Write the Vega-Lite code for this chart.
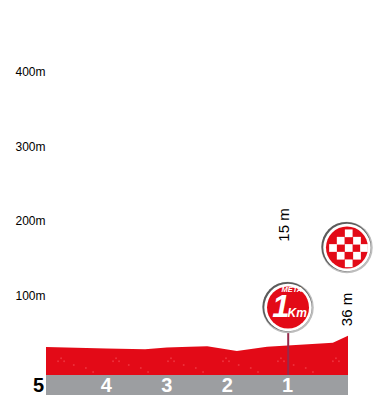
{"$schema":"https://vega.github.io/schema/vega-lite/v6.json","width":302,"height":400,"autosize":{"type":"none"},"padding":{"left":46,"right":30,"top":0,"bottom":0},"background":"white","config":{"view":{"stroke":null},"font":"Liberation Sans"},
"datasets":{
"band":[{"a":5,"b":0,"lo":-32,"hi":-5.33}],
"profile":[{"km":5,"m":32},{"km":4,"m":30},{"km":3.36,"m":29},{"km":3,"m":31.3},{"km":2.62,"m":32.4},{"km":2.33,"m":33},{"km":1.84,"m":26.7},{"km":1.34,"m":32.4},{"km":1,"m":34},{"km":0.25,"m":37.7},{"km":0,"m":47}],
"specks":[{"km":4.75,"m":17},{"km":3.84,"m":17},{"km":2.93,"m":17},{"km":2.02,"m":17},{"km":1.11,"m":17},{"km":0.2,"m":17},{"km":4.8,"m":13},{"km":3.89,"m":13},{"km":2.98,"m":13},{"km":2.07,"m":13},{"km":1.16,"m":13},{"km":0.25,"m":13},{"km":4.7,"m":13},{"km":3.79,"m":13},{"km":2.88,"m":13},{"km":1.97,"m":13},{"km":1.06,"m":13},{"km":0.15,"m":13},{"km":4.54,"m":8},{"km":3.63,"m":8},{"km":2.72,"m":8},{"km":1.81,"m":8},{"km":0.9,"m":8},{"km":4.34,"m":4},{"km":3.43,"m":4},{"km":2.52,"m":4},{"km":1.61,"m":4},{"km":0.7,"m":4},{"km":4.22,"m":-1.3},{"km":3.31,"m":-1.3},{"km":2.4,"m":-1.3},{"km":1.49,"m":-1.3},{"km":0.58,"m":-1.3}],
"kmLabels":[{"km":4,"m":-19.5,"t":"4"},{"km":3,"m":-19.5,"t":"3"},{"km":2,"m":-19.5,"t":"2"},{"km":1,"m":-19.5,"t":"1"}],
"pole":[{"km":0.99,"a":85,"b":-5.33}],
"flag":[{"km":0.017,"m":164.7}],
"flagDark":[{"km":0.03,"m":165.7}],
"meta":[{"km":0.993,"m":84.7}],
"metaDark":[{"km":1.006,"m":85.7}],
"checks":[{"km":-0.012,"m":183.6},{"km":0.121,"m":173.7},{"km":-0.149,"m":173.7},{"km":0.248,"m":164},{"km":-0.012,"m":164},{"km":-0.265,"m":164},{"km":0.121,"m":153.7},{"km":-0.149,"m":153.7},{"km":-0.012,"m":143.6}]
},
"encoding":{
"x":{"field":"km","type":"quantitative","scale":{"domain":[5,0],"nice":false,"zero":false},"axis":null},
"y":{"field":"m","type":"quantitative","scale":{"domain":[-38.67,494.67],"nice":false,"zero":false},"axis":{"title":null,"values":[100,200,300,400],"labelExpr":"datum.value+'m'","domain":false,"ticks":false,"grid":false,"labelPadding":1,"labelFont":"Liberation Sans","labelFontSize":12,"labelColor":"#000"}}
},
"layer":[
{"data":{"name":"band"},"mark":{"type":"rect","color":"#9c9ea1"},"encoding":{"x":{"field":"a","type":"quantitative"},"x2":{"field":"b"},"y":{"field":"lo","type":"quantitative"},"y2":{"field":"hi"}}},
{"data":{"name":"profile"},"mark":{"type":"area","color":"#e30a17"},"encoding":{"y2":{"datum":-5.33}}},
{"data":{"name":"specks"},"mark":{"type":"point","filled":true,"color":"#f5505a","opacity":0.55,"size":4}},
{"data":{"name":"pole"},"mark":{"type":"rule","color":"#97294a","strokeWidth":2},"encoding":{"y":{"field":"a","type":"quantitative"},"y2":{"field":"b"}}},
{"data":{"name":"flag"},"mark":{"type":"point","filled":true,"color":"#bdbdbd","opacity":1,"size":2650}},
{"data":{"name":"flagDark"},"mark":{"type":"point","filled":true,"color":"#5c5c5c","opacity":1,"size":2450}},
{"data":{"name":"flag"},"mark":{"type":"point","filled":true,"color":"#fff","opacity":1,"size":2250}},
{"data":{"name":"flag"},"mark":{"type":"point","filled":true,"color":"#e30a17","opacity":1,"size":1764}},
{"data":{"name":"checks"},"mark":{"type":"point","shape":"square","filled":true,"color":"#fff","opacity":1,"size":60}},
{"data":{"name":"meta"},"mark":{"type":"point","filled":true,"color":"#bdbdbd","opacity":1,"size":2650}},
{"data":{"name":"metaDark"},"mark":{"type":"point","filled":true,"color":"#5c5c5c","opacity":1,"size":2450}},
{"data":{"name":"meta"},"mark":{"type":"point","filled":true,"color":"#fff","opacity":1,"size":2250}},
{"data":{"name":"meta"},"mark":{"type":"point","filled":true,"color":"#e30a17","opacity":1,"size":1764}},
{"data":{"values":[{"km":0.93,"m":108,"t":"META"}]},"mark":{"type":"text","color":"#fff","font":"Liberation Sans","fontWeight":"bold","fontStyle":"italic","fontSize":7.5,"baseline":"middle"},"encoding":{"text":{"field":"t"}}},
{"data":{"values":[{"km":1.11,"m":84,"t":"1"}]},"mark":{"type":"text","color":"#fff","font":"Liberation Sans","fontWeight":"bold","fontStyle":"italic","fontSize":31,"baseline":"middle"},"encoding":{"text":{"field":"t"}}},
{"data":{"values":[{"km":0.84,"m":77.3,"t":"Km"}]},"mark":{"type":"text","color":"#fff","font":"Liberation Sans","fontWeight":"bold","fontStyle":"italic","fontSize":12,"baseline":"middle"},"encoding":{"text":{"field":"t"}}},
{"data":{"values":[{"km":1.06,"m":194.7,"t":"15 m"},{"km":0.017,"m":82,"t":"36 m"}]},"mark":{"type":"text","color":"#000","font":"Liberation Sans","fontSize":15,"angle":270,"baseline":"middle"},"encoding":{"text":{"field":"t"}}},
{"data":{"name":"kmLabels"},"mark":{"type":"text","color":"#fff","font":"Liberation Sans","fontWeight":"bold","fontSize":20,"baseline":"middle"},"encoding":{"text":{"field":"t"}}},
{"data":{"values":[{"km":5,"m":-19.5,"t":"5"}]},"mark":{"type":"text","color":"#000","font":"Liberation Sans","fontWeight":"bold","fontSize":20,"baseline":"middle","align":"right","dx":-2},"encoding":{"text":{"field":"t"}}},
{"data":{"values":[{"km":5,"m":500,"t":"500m"}]},"mark":{"type":"text","color":"#000","font":"Liberation Sans","fontSize":12,"baseline":"middle","align":"right","dx":-1},"encoding":{"text":{"field":"t"}}}
]}
